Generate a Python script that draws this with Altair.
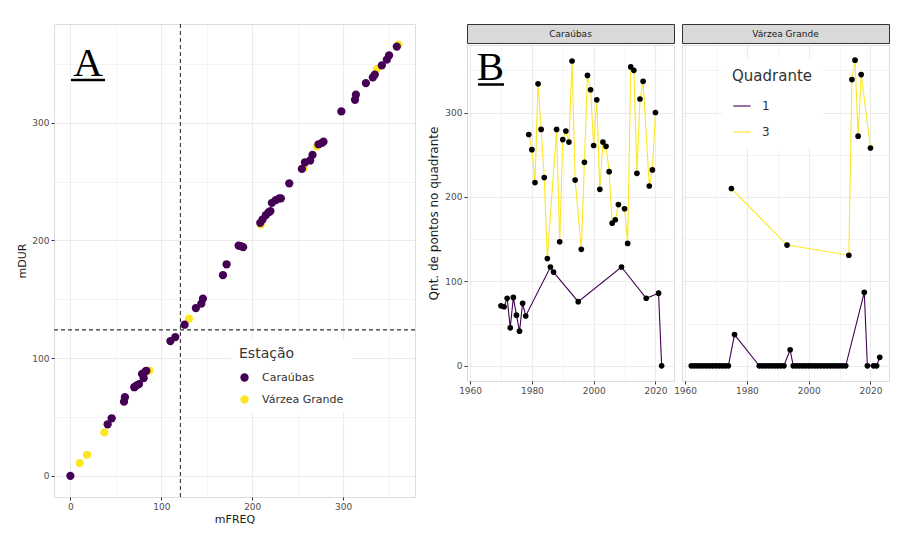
import altair as alt
import pandas as pd

FONT = "DejaVu Sans"
PURPLE = "#440154"
YELLOW = "#FDE725"

# ---------------- Panel A data ----------------
a_car_freq = [0, 41, 45.4, 59, 60, 70.3, 72.5, 75.5, 80.6, 78.8, 82.4, 83.5, 110, 115.4, 125.6,
              138, 144, 145.8, 167.8, 171.8, 185, 187.5, 190, 208.8, 211.4, 215, 218, 220,
              221.6, 226, 229.7, 231.5, 240.7, 254.6, 258, 263.7, 266.3, 272.9, 276.6, 278.4,
              298, 313, 314, 325, 332.6, 334.8, 342.5, 348, 350.5, 359]
a_car_dur = [0, 43.8, 48.9, 63, 66.8, 75.3, 76.7, 78, 83, 86.6, 88.6, 89.3, 114.5, 117.9, 128.4,
             142.6, 146.3, 150.6, 170.5, 179.8, 195.7, 195.2, 194.3, 215, 218, 221.6, 224, 225,
             232, 234.4, 235.8, 235.8, 248.6, 260.8, 266.5, 268, 272.7, 281.8, 283, 284,
             309.7, 319.6, 323.9, 333.8, 338.6, 341, 348.9, 353.7, 357.4, 364.8]
a_vg_freq = [10.3, 18.3, 37.4, 86.8, 130.4, 209.5, 257, 271, 337, 360.8]
a_vg_dur = [10.8, 17.9, 36.9, 89.5, 133.5, 213.6, 262, 280, 345.7, 366.5]
stations = ["Caraúbas", "Várzea Grande"]
V_LINE = 121
H_LINE = 124

# ---------------- Panel B data ----------------
car_q3_years = [1979, 1980, 1981, 1982, 1983, 1984, 1985, 1988, 1989, 1990, 1991, 1992, 1993,
                1994, 1996, 1997, 1998, 1999, 2000, 2001, 2002, 2003, 2004, 2005, 2006, 2007,
                2008, 2010, 2011, 2012, 2013, 2014, 2015, 2016, 2018, 2019, 2020]
car_q3_vals = [274, 256, 217, 334, 280, 223, 127, 280, 147, 268, 278, 265, 361,
               220, 138, 241, 344, 327, 261, 315, 209, 265, 260, 230, 169, 173,
               191, 186, 145, 354, 350, 228, 316, 337, 213, 232, 300]
car_q1_years = [1970, 1971, 1972, 1973, 1974, 1975, 1976, 1977, 1978, 1986, 1987, 1995, 2009,
                2017, 2021, 2022]
car_q1_vals = [71, 70, 80, 45, 81, 60, 41, 74, 59, 117, 111, 76, 117, 80, 86, 0]
vg_q3_years = [1975, 1993, 2013, 2014, 2015, 2016, 2017, 2020]
vg_q3_vals = [210, 143, 131, 339, 362, 272, 345, 258]
vg_q1_years = [1962, 1963, 1964, 1965, 1966, 1967, 1968, 1969, 1970, 1971, 1972, 1973, 1974,
               1976,
               1984, 1985, 1986, 1987, 1988, 1989, 1990, 1991, 1992,
               1994,
               1995, 1996, 1997, 1998, 1999, 2000, 2001, 2002, 2003, 2004, 2005, 2006, 2007,
               2008, 2009, 2010, 2011, 2012,
               2018, 2019, 2021, 2022, 2023]
vg_q1_vals = [0, 0, 0, 0, 0, 0, 0, 0, 0, 0, 0, 0, 0,
              37,
              0, 0, 0, 0, 0, 0, 0, 0, 0,
              19,
              0, 0, 0, 0, 0, 0, 0, 0, 0, 0, 0, 0, 0,
              0, 0, 0, 0, 0,
              87, 0, 0, 0, 10]
quadrants = ["1", "3"]

# ---------------- tables ----------------
df_a = pd.concat([
    pd.DataFrame({"mFREQ": a_vg_freq, "mDUR": a_vg_dur, "Estação": stations[1]}),
    pd.DataFrame({"mFREQ": a_car_freq, "mDUR": a_car_dur, "Estação": stations[0]}),
], ignore_index=True)
df_a["order"] = range(len(df_a))

df_car = pd.concat([
    pd.DataFrame({"ano": car_q1_years, "n": car_q1_vals, "Quadrante": quadrants[0]}),
    pd.DataFrame({"ano": car_q3_years, "n": car_q3_vals, "Quadrante": quadrants[1]}),
], ignore_index=True)
df_vg = pd.concat([
    pd.DataFrame({"ano": vg_q1_years, "n": vg_q1_vals, "Quadrante": quadrants[0]}),
    pd.DataFrame({"ano": vg_q3_years, "n": vg_q3_vals, "Quadrante": quadrants[1]}),
], ignore_index=True)


def grid_axis(values, major_mod, title, labels=True, fmt="d", title_size=11, title_pad=4):
    test = f"datum.value % {major_mod} === 0"
    kw = dict(
        values=values, format=fmt,
        labelExpr=f"{test} ? datum.label : ''",
        gridColor="#EBEBEB",
        gridWidth={"condition": {"test": test, "value": 1.1}, "value": 0.55},
        tickOpacity={"condition": {"test": test, "value": 1}, "value": 0},
        tickColor="#333333", tickSize=3, domain=False,
        labelColor="#4D4D4D", labelFontSize=9, labelFont=FONT, labelPadding=2,
        titleFont=FONT, titleFontSize=title_size, titleFontWeight="normal", titleColor="#1A1A1A",
        titlePadding=title_pad,
    )
    if not labels:
        kw.update(labels=False, ticks=False)
    if title is None:
        kw["title"] = None
    else:
        kw["title"] = title
    return alt.Axis(**kw)


# ---------------- Panel A ----------------
a_x = alt.Scale(domain=[-18, 379], nice=False, zero=False)
a_y = alt.Scale(domain=[-18, 384], nice=False, zero=False)
a_vals = [0, 50, 100, 150, 200, 250, 300, 350]

pts_a = alt.Chart(df_a).mark_circle(size=68, opacity=1).encode(
    x=alt.X("mFREQ:Q", scale=a_x, axis=grid_axis(a_vals, 100, "mFREQ", title_pad=2)),
    y=alt.Y("mDUR:Q", scale=a_y, axis=grid_axis(a_vals, 100, "mDUR")),
    color=alt.Color("Estação:N", scale=alt.Scale(domain=stations, range=[PURPLE, YELLOW]),
                    sort=stations,
                    legend=alt.Legend(orient="none", legendX=177, legendY=315, fillColor="white",
                                      padding=8, titleFontSize=14, titleFont=FONT,
                                      titleFontWeight="normal", titleColor="#333333",
                                      labelFontSize=11, labelFont=FONT, labelColor="#333333",
                                      symbolType="circle", symbolSize=70, rowPadding=10,
                                      titlePadding=11, labelOffset=12, symbolStrokeWidth=0)),
    order="order:Q",
)
vline = alt.Chart(pd.DataFrame({"v": [V_LINE]})).mark_rule(
    strokeDash=[4, 3], color="#333333", strokeWidth=1.1).encode(x=alt.X("v:Q", scale=a_x))
hline = alt.Chart(pd.DataFrame({"h": [H_LINE]})).mark_rule(
    strokeDash=[4, 3], color="#333333", strokeWidth=1.1).encode(y=alt.Y("h:Q", scale=a_y))
lab_a = alt.Chart(pd.DataFrame({"t": ["A"]})).mark_text(
    font="Liberation Serif", fontSize=41, color="#000000", baseline="alphabetic", align="center"
).encode(text="t:N", x=alt.value(34), y=alt.value(52))
und_a = alt.Chart(pd.DataFrame({"t": ["A"]})).mark_rule(color="#000000", strokeWidth=2.5).encode(
    x=alt.value(17), x2=alt.value(51), y=alt.value(56))

panel_a = alt.layer(vline, hline, pts_a, lab_a, und_a).properties(width=361, height=473)

# ---------------- Panel B ----------------
b_x = alt.Scale(domain=[1959, 2026], nice=False, zero=False)
b_y = alt.Scale(domain=[-18, 380], nice=False, zero=False)
b_xvals = [1960, 1970, 1980, 1990, 2000, 2010, 2020]
b_yvals = [0, 50, 100, 150, 200, 250, 300, 350]
PW, PH = 207, 336


def b_panel(df, name, first):
    yaxis = grid_axis(b_yvals, 100, "Qnt. de pontos no quadrante" if first else None,
                      labels=first, title_size=12)
    if first:
        leg = None
    else:
        leg = alt.Legend(orient="none", legendX=40, legendY=14, fillColor="white", padding=10,
                         titleFontSize=15, titleFont=FONT, titleFontWeight="normal",
                         titleColor="#333333", labelFontSize=12, labelFont=FONT,
                         labelColor="#333333", symbolType="stroke", symbolSize=300,
                         symbolStrokeWidth=2, symbolOpacity=0.55, rowPadding=10,
                         titlePadding=12, labelOffset=10)
    base = alt.Chart(df).encode(
        x=alt.X("ano:Q", scale=b_x, axis=grid_axis(b_xvals, 20, None)),
        y=alt.Y("n:Q", scale=b_y, axis=yaxis),
    )
    lines = base.mark_line(strokeWidth=1.1).encode(
        color=alt.Color("Quadrante:N", scale=alt.Scale(domain=quadrants, range=[PURPLE, YELLOW]),
                        legend=leg),
        order="ano:Q",
    )
    pts = base.mark_circle(size=32, color="#000000", opacity=1)
    layers = [lines, pts]
    if first:
        layers.append(alt.Chart(pd.DataFrame({"t": ["B"]})).mark_text(
            font="Liberation Serif", fontSize=41, color="#000000", baseline="alphabetic",
            align="center").encode(text="t:N", x=alt.value(23.5), y=alt.value(35)))
        layers.append(alt.Chart(pd.DataFrame({"t": ["B"]})).mark_rule(
            color="#000000", strokeWidth=2.5).encode(x=alt.value(11), x2=alt.value(37),
                                                     y=alt.value(39.5)))
    plot = alt.layer(*layers).properties(width=PW, height=PH)
    strip = alt.Chart(pd.DataFrame({"t": [name]})).mark_text(
        font=FONT, fontSize=9, color="#1A1A1A").encode(
        text="t:N").properties(width=PW, height=19,
                                view=alt.ViewBackground(fill="#D9D9D9", stroke="#333333",
                                                        strokeWidth=1))
    return alt.vconcat(strip, plot, spacing=0).resolve_scale(color="independent")


panel_b = alt.hconcat(b_panel(df_car, stations[0], True), b_panel(df_vg, stations[1], False),
                      spacing=-2).resolve_scale(color="independent")

chart = alt.hconcat(panel_a, panel_b, spacing=10).resolve_scale(color="independent").properties(
    padding={"left": 8, "top": 14, "right": 0, "bottom": 0}
).configure_view(stroke="#333333", strokeWidth=1).configure(font=FONT)

chart.save("out.html", embed_options={"renderer": "svg", "actions": False})
